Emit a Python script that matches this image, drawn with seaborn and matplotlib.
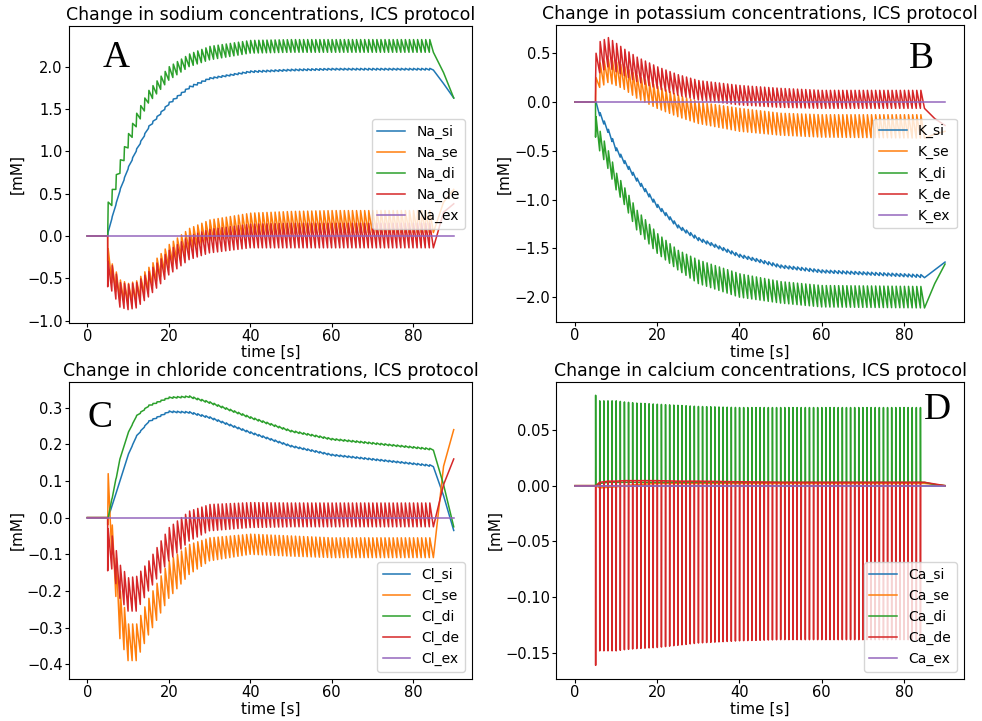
import numpy as np
import matplotlib
matplotlib.use("Agg")
import matplotlib.pyplot as plt
import seaborn as sns

# stimulus: one spike per second from 5 s to 84 s, simulation ends at 90 s
spikes = np.arange(5, 85, 1.0)
t_env = [5, 6, 8, 10, 12, 15, 20, 25, 30, 40, 50, 60, 85]
t_tail = [87.5, 90]

# sodium, lower / upper envelope of the oscillation
Na_si_lo = [0.0, 0.20, 0.53, 0.79, 1.00, 1.27, 1.55, 1.74, 1.85, 1.93, 1.95, 1.96, 1.96]
Na_si_hi = [0.05, 0.23, 0.56, 0.82, 1.03, 1.30, 1.58, 1.77, 1.87, 1.95, 1.97, 1.98, 1.98]
Na_se_lo = [-0.30, -0.55, -0.76, -0.80, -0.78, -0.64, -0.37, -0.17, -0.06, 0.01, 0.03, 0.04, 0.04]
Na_se_hi = [-0.15, -0.33, -0.52, -0.56, -0.53, -0.37, -0.10, 0.09, 0.19, 0.27, 0.29, 0.30, 0.30]
Na_di_lo = [0.0, 0.36, 0.74, 1.04, 1.29, 1.57, 1.84, 2.00, 2.08, 2.16, 2.17, 2.17, 2.17]
Na_di_hi = [0.40, 0.55, 0.90, 1.21, 1.45, 1.72, 2.00, 2.15, 2.24, 2.31, 2.32, 2.32, 2.32]
Na_de_lo = [-0.60, -0.65, -0.84, -0.87, -0.85, -0.72, -0.46, -0.28, -0.20, -0.14, -0.14, -0.14, -0.14]
Na_de_hi = [-0.30, -0.35, -0.55, -0.57, -0.55, -0.42, -0.17, 0.00, 0.08, 0.14, 0.15, 0.15, 0.15]
Na_tail = {"si": [1.80, 1.63], "se": [0.40, 0.55], "di": [1.93, 1.63], "de": [0.28, 0.38]}

# potassium
K_si_lo = [0.0, -0.14, -0.31, -0.50, -0.63, -0.81, -1.08, -1.29, -1.42, -1.59, -1.70, -1.75, -1.80]
K_si_hi = [0.0, -0.11, -0.28, -0.47, -0.60, -0.78, -1.05, -1.26, -1.39, -1.56, -1.67, -1.72, -1.77]
K_se_lo = [0.05, 0.15, 0.20, 0.17, 0.13, 0.04, -0.065, -0.15, -0.22, -0.30, -0.34, -0.36, -0.37]
K_se_hi = [0.25, 0.40, 0.44, 0.41, 0.36, 0.27, 0.16, 0.07, 0.0, -0.065, -0.115, -0.13, -0.13]
K_di_lo = [-0.36, -0.50, -0.68, -0.90, -1.05, -1.31, -1.55, -1.72, -1.86, -2.00, -2.06, -2.10, -2.11]
K_di_hi = [-0.15, -0.30, -0.50, -0.73, -0.88, -1.11, -1.35, -1.52, -1.62, -1.76, -1.84, -1.88, -1.89]
K_de_lo = [0.20, 0.30, 0.36, 0.31, 0.27, 0.21, 0.14, 0.07, 0.02, -0.03, -0.055, -0.065, -0.065]
K_de_hi = [0.50, 0.62, 0.66, 0.60, 0.54, 0.46, 0.36, 0.28, 0.22, 0.17, 0.14, 0.12, 0.12]
K_tail = {"si": [-1.72, -1.64], "se": [-0.33, -0.30], "di": [-1.86, -1.66], "de": [-0.17, -0.24]}

# chloride
Cl_si_lo = [0.0, 0.03, 0.10, 0.17, 0.22, 0.26, 0.287, 0.285, 0.271, 0.230, 0.193, 0.169, 0.139]
Cl_si_hi = [0.0, 0.034, 0.104, 0.174, 0.224, 0.264, 0.291, 0.289, 0.275, 0.234, 0.197, 0.173, 0.143]
Cl_se_lo = [-0.02, -0.10, -0.33, -0.39, -0.39, -0.32, -0.22, -0.155, -0.118, -0.10, -0.105, -0.109, -0.109]
Cl_se_hi = [0.12, -0.02, -0.20, -0.29, -0.29, -0.22, -0.118, -0.073, -0.055, -0.045, -0.05, -0.055, -0.055]
Cl_di_lo = [0.0, 0.05, 0.16, 0.23, 0.275, 0.303, 0.325, 0.328, 0.312, 0.271, 0.234, 0.212, 0.184]
Cl_di_hi = [0.0, 0.054, 0.164, 0.234, 0.279, 0.307, 0.329, 0.332, 0.316, 0.275, 0.238, 0.216, 0.188]
Cl_de_lo = [-0.145, -0.14, -0.22, -0.255, -0.255, -0.20, -0.118, -0.064, -0.036, -0.027, -0.025, -0.025, -0.025]
Cl_de_hi = [-0.03, -0.05, -0.13, -0.164, -0.16, -0.118, -0.027, 0.018, 0.036, 0.041, 0.04, 0.04, 0.04]
Cl_tail = {"si": [0.06, -0.035], "se": [0.14, 0.24], "di": [0.09, -0.025], "de": [0.09, 0.16]}

# calcium: baseline between spikes and spike tip
Ca_si_base = [0.0] * 13
Ca_se_base = [0.0, -0.002, -0.0015, -0.001, 0.0, 0.001, 0.002, 0.002, 0.002, 0.002, 0.002, 0.002, 0.002]
Ca_di_base = [0.0, 0.002, 0.003, 0.003, 0.003, 0.003, 0.003, 0.003, 0.003, 0.003, 0.003, 0.003, 0.003]
Ca_di_peak = [0.081, 0.076, 0.076, 0.076, 0.075, 0.074, 0.073, 0.072, 0.071, 0.070, 0.070, 0.070, 0.070]
Ca_de_base = [0.0, 0.003, 0.004, 0.004, 0.0045, 0.0045, 0.0045, 0.004, 0.004, 0.0035, 0.003, 0.003, 0.003]
Ca_de_peak = [-0.161, -0.148, -0.148, -0.148, -0.147, -0.146, -0.145, -0.143, -0.141, -0.139, -0.138, -0.138, -0.138]
Ca_tail = {"si": [0.0, 0.0], "se": [0.001, 0.0], "di": [0.001, 0.0], "de": [0.0015, 0.0]}

colors = ["#1f77b4", "#ff7f0e", "#2ca02c", "#d62728", "#9467bd"]
comps = ["si", "se", "di", "de"]


def sawtooth(lo, hi, tail):
    lo_k = np.interp(spikes, t_env, lo)
    hi_k = np.interp(spikes, t_env, hi)
    t = [0.0, 4.99]
    y = [0.0, 0.0]
    for s, a, b in zip(spikes, lo_k, hi_k):
        t += [s, s + 0.12]
        y += [a, b]
    t += [85.0] + t_tail
    y += [lo[-1]] + tail
    return np.array(t), np.array(y)


def spiky(base, peak, tail):
    b_k = np.interp(spikes, t_env, base)
    p_k = np.interp(spikes, t_env, peak)
    t = [0.0, 4.99]
    y = [0.0, 0.0]
    for s, b, p in zip(spikes, b_k, p_k):
        t += [s, s + 0.02, s + 0.06]
        y += [b, p, b]
    t += [85.0] + t_tail
    y += [base[-1]] + tail
    return np.array(t), np.array(y)


panels = [
    ("Na", "sodium", [sawtooth(Na_si_lo, Na_si_hi, Na_tail["si"]), sawtooth(Na_se_lo, Na_se_hi, Na_tail["se"]),
                      sawtooth(Na_di_lo, Na_di_hi, Na_tail["di"]), sawtooth(Na_de_lo, Na_de_hi, Na_tail["de"])]),
    ("K", "potassium", [sawtooth(K_si_lo, K_si_hi, K_tail["si"]), sawtooth(K_se_lo, K_se_hi, K_tail["se"]),
                        sawtooth(K_di_lo, K_di_hi, K_tail["di"]), sawtooth(K_de_lo, K_de_hi, K_tail["de"])]),
    ("Cl", "chloride", [sawtooth(Cl_si_lo, Cl_si_hi, Cl_tail["si"]), sawtooth(Cl_se_lo, Cl_se_hi, Cl_tail["se"]),
                        sawtooth(Cl_di_lo, Cl_di_hi, Cl_tail["di"]), sawtooth(Cl_de_lo, Cl_de_hi, Cl_tail["de"])]),
    ("Ca", "calcium", [spiky(Ca_si_base, Ca_si_base, Ca_tail["si"]), spiky(Ca_se_base, Ca_se_base, Ca_tail["se"]),
                       spiky(Ca_di_base, Ca_di_peak, Ca_tail["di"]), spiky(Ca_de_base, Ca_de_peak, Ca_tail["de"])]),
]

positions = [[0.0703, 0.5527, 0.4104, 0.4119], [0.5667, 0.5534, 0.4145, 0.4119],
             [0.0703, 0.0583, 0.4104, 0.4119], [0.5667, 0.0583, 0.4145, 0.4119]]
ylims = [(-1.022, 2.486), (-2.254, 0.789), (-0.440, 0.370), (-0.1732, 0.0929)]
letters = ["A", "B", "C", "D"]
letter_xy = [(0.117, 0.890), (0.897, 0.888), (0.077, 0.878), (0.936, 0.905)]
legend_loc = ["center right", "center right", "lower right", "lower right"]

fig = plt.figure(figsize=(9.82, 7.21), dpi=100)

for i, (ion, name, curves) in enumerate(panels):
    ax = fig.add_axes(positions[i])
    for j, (t, y) in enumerate(curves):
        sns.lineplot(x=t, y=y, ax=ax, color=colors[j], label=f"{ion}_{comps[j]}",
                     estimator=None, sort=False, linewidth=1.1)
    sns.lineplot(x=[0, 90], y=[0, 0], ax=ax, color=colors[4], label=f"{ion}_ex",
                 estimator=None, sort=False, linewidth=1.1)
    ax.set_xlim(-4.5, 94.5)
    ax.set_ylim(*ylims[i])
    ax.set_title(f"Change in {name} concentrations, ICS protocol", fontsize=12.5, pad=4)
    ax.set_xlabel("time [s]", fontsize=11, labelpad=1)
    ax.set_ylabel("[mM]", fontsize=11, labelpad=2)
    ax.tick_params(labelsize=10.5, length=2.8, pad=1.8)
    ax.legend(loc=legend_loc[i], fontsize=10)
    ax.text(*letter_xy[i], letters[i], transform=ax.transAxes, ha="center", va="center",
            fontsize=27, family="Liberation Serif")

fig.savefig("out.png", dpi=100)
